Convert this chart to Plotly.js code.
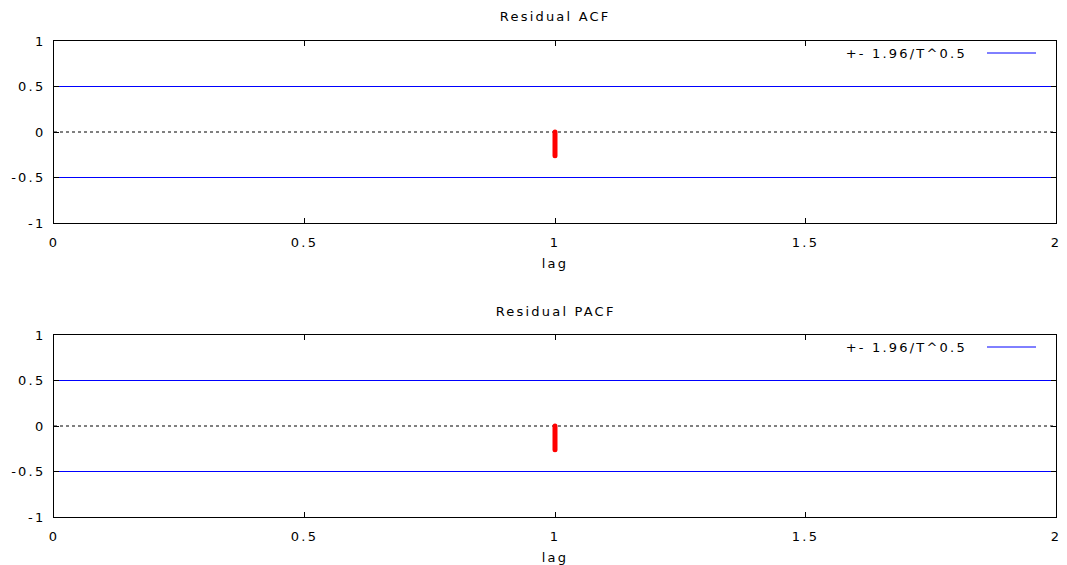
<!DOCTYPE html>
<html>
<head>
<meta charset="utf-8">
<script src="https://cdn.plot.ly/plotly-3.0.1.min.js"></script>
<style>
html,body{margin:0;padding:0;background:#fff}
#chart{width:1067px;height:565px}
#chart svg text{letter-spacing:2.2px}
#chart .scatterlayer path.js-line{stroke-linecap:round}
</style>
</head>
<body>
<div id="chart"></div>
<script>
// Data
const lags = [1];
const residualACF = [-0.26];
const residualPACF = [-0.26];
const confBand = 0.5;          // +- 1.96/T^0.5
const lagRange = [0, 2];
const panelTitles = ["Residual ACF", "Residual PACF"];
const legendLabel = "+- 1.96/T^0.5";
const xTicks = [0, 0.5, 1, 1.5, 2];
const xTickText = ["0", "0.5", "1", "1.5", "2"];
const yTicks = [-1, -0.5, 0, 0.5, 1];
const yTickText = ["-1", "-0.5", "0", "0.5", "1"];

const FONT = "DejaVu Sans, sans-serif";
const FS = 13;
const W = 1067, H = 565;
const xDom = [54 / W, 1056 / W];
const yDoms = [[1 - 223 / H, 1 - 41 / H], [1 - 517 / H, 1 - 335 / H]];

function stems(lagArr, valArr) {
  const x = [], y = [];
  lagArr.forEach((l, i) => { x.push(l, l, null); y.push(0, valArr[i], null); });
  return {x, y};
}

const series = [residualACF, residualPACF];
const traces = [];
const shapes = [];
const annotations = [];
const layout = {
  width: W, height: H,
  margin: {l: 0, r: 0, t: 0, b: 0},
  paper_bgcolor: "#fff", plot_bgcolor: "#fff",
  showlegend: false,
  font: {family: FONT, size: FS, color: "#000"},
  shapes, annotations
};

series.forEach((vals, k) => {
  const xa = k === 0 ? "x" : "x2";
  const ya = k === 0 ? "y" : "y2";
  const xk = k === 0 ? "xaxis" : "xaxis2";
  const yk = k === 0 ? "yaxis" : "yaxis2";
  // confidence lines
  traces.push({x: lagRange, y: [confBand, confBand], xaxis: xa, yaxis: ya, mode: "lines",
    line: {color: "#0000ff", width: 1}, hoverinfo: "skip", name: legendLabel});
  traces.push({x: lagRange, y: [-confBand, -confBand], xaxis: xa, yaxis: ya, mode: "lines",
    line: {color: "#0000ff", width: 1}, hoverinfo: "skip", name: legendLabel});
  // stems
  const s = stems(lags, vals);
  traces.push({x: s.x, y: s.y, xaxis: xa, yaxis: ya, mode: "lines",
    line: {color: "#ff0000", width: 5}, name: panelTitles[k]});

  layout[xk] = {
    domain: xDom, range: lagRange, anchor: ya,
    tickvals: xTicks, ticktext: xTickText,
    ticks: "inside", ticklen: 5, tickcolor: "#000", mirror: "allticks",
    showline: true, linecolor: "#000", linewidth: 1,
    showgrid: false, zeroline: false,
    ticklabelstandoff: 7,
    tickfont: {family: FONT, size: FS, color: "#000"},
    title: {text: "lag", font: {family: FONT, size: FS, color: "#000"}, standoff: 10}
  };
  layout[yk] = {
    domain: yDoms[k], range: [-1, 1], anchor: xa,
    tickvals: yTicks, ticktext: yTickText,
    ticks: "inside", ticklen: 5, tickcolor: "#000", mirror: "allticks",
    showline: true, linecolor: "#000", linewidth: 1,
    showgrid: false, zeroline: false,
    ticklabelstandoff: 5,
    tickfont: {family: FONT, size: FS, color: "#000"}
  };
  // zero axis dotted
  shapes.push({type: "line", xref: xa, yref: ya, x0: lagRange[0], x1: lagRange[1], y0: 0, y1: 0,
    line: {color: "#000", width: 1, dash: "dot"}, layer: "below"});
  // title
  annotations.push({text: panelTitles[k], xref: "paper", yref: "paper", x: 0.5 * (xDom[0] + xDom[1]),
    y: yDoms[k][1] + 24 / H, xanchor: "center", yanchor: "middle", showarrow: false,
    font: {family: FONT, size: FS, color: "#000"}});
  // legend key
  const ly = yDoms[k][1] - 12 / H;
  annotations.push({text: legendLabel, xref: "paper", yref: "paper", x: 858 / W, y: ly,
    xanchor: "left", yanchor: "middle", showarrow: false,
    font: {family: FONT, size: FS, color: "#000"}});
  shapes.push({type: "line", xref: "paper", yref: "paper", x0: 987 / W, x1: 1036 / W, y0: ly, y1: ly,
    line: {color: "#0000ff", width: 1}});
});

Plotly.newPlot("chart", traces, layout, {staticPlot: true});
</script>
</body>
</html>
